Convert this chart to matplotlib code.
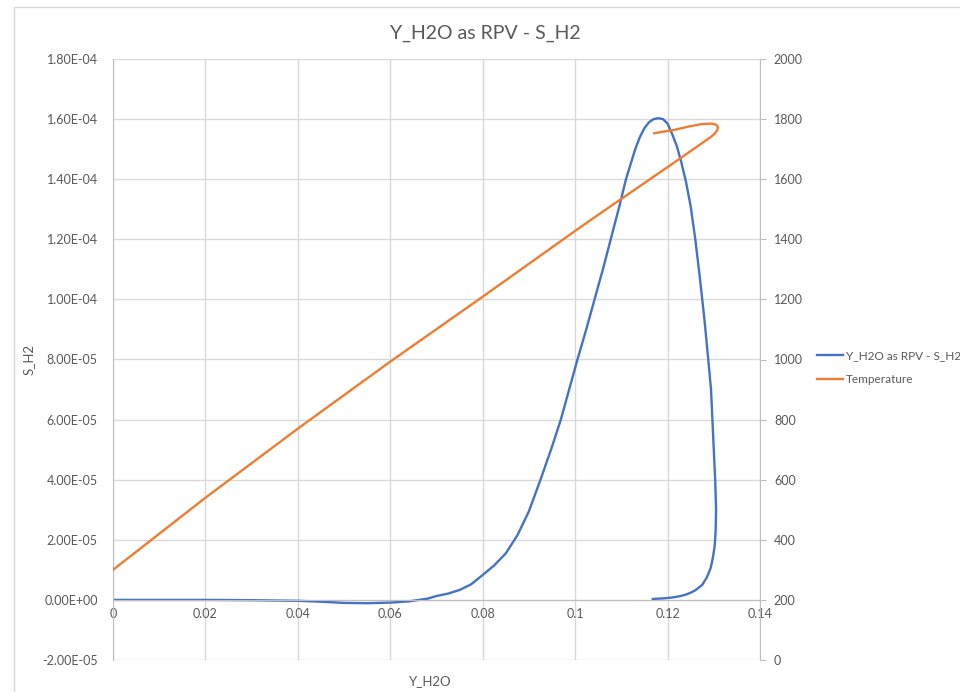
import matplotlib
matplotlib.use("Agg")
import matplotlib.pyplot as plt
from matplotlib.ticker import FuncFormatter, MultipleLocator
from matplotlib.patches import Rectangle

plt.rcParams['font.family'] = ['Lato', 'DejaVu Sans']

# S_H2 against Y_H2O (left axis)
y_h2o = [0.0, 0.01, 0.02, 0.03, 0.035, 0.04, 0.045, 0.05, 0.055, 0.06, 0.064,
         0.068, 0.07, 0.0725, 0.075, 0.0775, 0.08, 0.0825, 0.085, 0.0875, 0.09,
         0.0925, 0.095, 0.0969, 0.0987, 0.1005, 0.1024, 0.1042, 0.106, 0.1077,
         0.1094, 0.111, 0.112, 0.113, 0.114, 0.115, 0.116, 0.117, 0.118, 0.119,
         0.12, 0.121, 0.122, 0.123, 0.124, 0.125, 0.126, 0.127, 0.128, 0.1288,
         0.1294, 0.1297, 0.13, 0.1303, 0.1305, 0.1304, 0.1302, 0.1298, 0.1293,
         0.1285, 0.1275, 0.126, 0.125, 0.124, 0.1229, 0.121, 0.119, 0.1168]
s_h2 = [0.0, 0.0, 0.0, -0.1e-6, -0.2e-6, -0.3e-6, -0.6e-6, -1.0e-6, -1.1e-6,
        -0.9e-6, -0.5e-6, 0.4e-6, 1.3e-6, 2.1e-6, 3.3e-6, 5.2e-6, 8.3e-6,
        1.15e-5, 1.55e-5, 2.15e-5, 2.95e-5, 4.0e-5, 5.1e-5, 6.0e-5, 7.0e-5,
        8.0e-5, 9.0e-5, 1.0e-4, 1.1e-4, 1.2e-4, 1.3e-4, 1.4e-4, 1.45e-4,
        1.5e-4, 1.54e-4, 1.57e-4, 1.59e-4, 1.6e-4, 1.603e-4, 1.6e-4, 1.585e-4,
        1.55e-4, 1.51e-4, 1.455e-4, 1.39e-4, 1.31e-4, 1.2e-4, 1.07e-4, 9.3e-5,
        8.0e-5, 7.0e-5, 6.0e-5, 5.0e-5, 4.0e-5, 3.0e-5, 2.3e-5, 1.8e-5, 1.4e-5,
        1.05e-5, 7.5e-6, 5.0e-6, 3.2e-6, 2.4e-6, 1.8e-6, 1.3e-6, 0.8e-6, 0.5e-6,
        0.3e-6]

# Temperature against Y_H2O (right axis)
y_h2o_t = [0.0, 0.02, 0.04, 0.06, 0.08, 0.1, 0.1055, 0.1229, 0.1294, 0.1302,
           0.1307, 0.1309, 0.1307, 0.1302, 0.1294, 0.1272, 0.1245, 0.1214,
           0.119, 0.1171]
temperature = [300, 540, 770, 993, 1209, 1428, 1487, 1671, 1741, 1752,
               1762, 1772, 1779, 1783, 1785, 1783, 1775, 1764, 1758, 1753]

x_ticks = [0, 0.02, 0.04, 0.06, 0.08, 0.1, 0.12, 0.14]

blue = '#4472C4'
orange = '#ED7D31'
grey_txt = '#595959'
grid_c = '#d9d9d9'

fig = plt.figure(figsize=(9.6, 6.92), dpi=100)
fig.patches.append(Rectangle((14 / 960, -0.1), 1.2, 1.1 - 7 / 692,
                             transform=fig.transFigure, fill=False,
                             edgecolor=grid_c, linewidth=1.0))
ax = fig.add_axes([113 / 960, 1 - 660 / 692, (760 - 113) / 960, (660 - 59) / 692])
ax2 = ax.twinx()

l1, = ax.plot(y_h2o, s_h2, color=blue, lw=1.7, label='Y_H2O as RPV - S_H2')
l2, = ax2.plot(y_h2o_t, temperature, color=orange, lw=1.7, label='Temperature')

ax.set_xlim(0, 0.14)
ax.set_ylim(-2e-5, 1.8e-4)
ax2.set_ylim(0, 2000)
ax.set_xticks(x_ticks)
ax.xaxis.set_major_formatter(FuncFormatter(lambda v, p: f'{v:g}'))
ax.yaxis.set_major_locator(MultipleLocator(2e-5))
ax.yaxis.set_major_formatter(FuncFormatter(lambda v, p: f'{v:.2E}'))
ax2.yaxis.set_major_locator(MultipleLocator(200))

ax.grid(True, color=grid_c, lw=1.0)
ax.set_axisbelow(True)
ax.spines['top'].set_visible(False)
ax2.spines['top'].set_visible(False)
ax.spines['bottom'].set_position(('data', 0))
ax.spines['bottom'].set_color('#bfbfbf')
ax.spines['left'].set_color('#bfbfbf')
ax2.spines['right'].set_color('#bfbfbf')
ax2.spines['left'].set_visible(False)
ax2.spines['bottom'].set_visible(False)
ax.spines['right'].set_visible(False)

ax.tick_params(axis='x', length=0, pad=6, labelsize=9, labelcolor=grey_txt)
ax.tick_params(axis='y', length=0, pad=11, labelsize=9, labelcolor=grey_txt)
ax2.tick_params(axis='y', length=4, color='#bfbfbf', pad=6, labelsize=9,
                labelcolor=grey_txt)

fig.text(485 / 960, 1 - 33 / 692, 'Y_H2O as RPV - S_H2', fontsize=14,
         color=grey_txt, ha='center', va='center')
ax.set_ylabel('S_H2', fontsize=9.5, color=grey_txt)
ax.yaxis.set_label_coords(-0.1206, 0.5)
ax.set_xlabel('Y_H2O', fontsize=9.5, color=grey_txt)
ax.xaxis.set_label_coords(0.49, -0.025)

fig.legend([l1, l2], [l1.get_label(), l2.get_label()], loc='center left',
           bbox_to_anchor=(806 / 960, 1 - 368 / 692), frameon=False,
           fontsize=8.5, labelcolor=grey_txt, handlelength=2.2,
           handletextpad=0.3, labelspacing=1.1)

fig.savefig('out.png', dpi=100)
